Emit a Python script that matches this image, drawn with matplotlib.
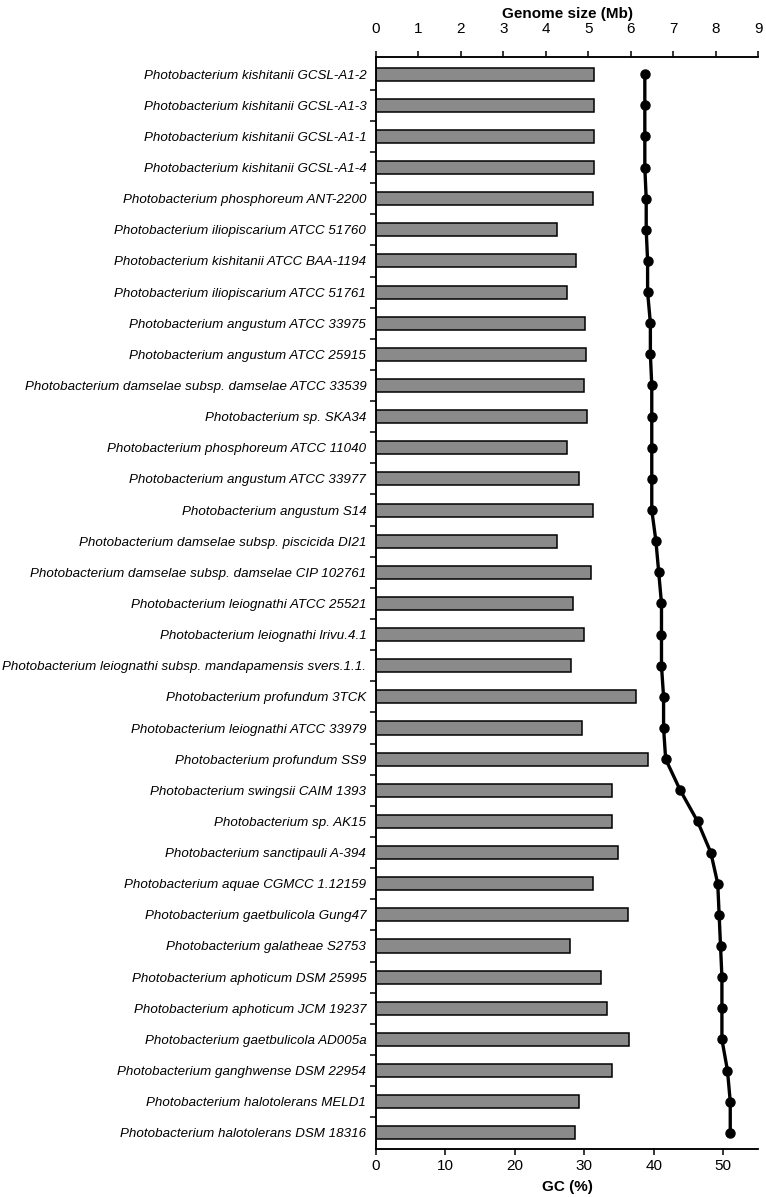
import matplotlib.pyplot as plt
import numpy as np

plt.rcParams['font.family'] = ['Liberation Sans', 'DejaVu Sans']

# cepas (de arriba hacia abajo)
cepas = [
    "Photobacterium kishitanii GCSL-A1-2",
    "Photobacterium kishitanii GCSL-A1-3",
    "Photobacterium kishitanii GCSL-A1-1",
    "Photobacterium kishitanii GCSL-A1-4",
    "Photobacterium phosphoreum ANT-2200",
    "Photobacterium iliopiscarium ATCC 51760",
    "Photobacterium kishitanii ATCC BAA-1194",
    "Photobacterium iliopiscarium ATCC 51761",
    "Photobacterium angustum ATCC 33975",
    "Photobacterium angustum ATCC 25915",
    "Photobacterium damselae subsp. damselae ATCC 33539",
    "Photobacterium sp. SKA34",
    "Photobacterium phosphoreum ATCC 11040",
    "Photobacterium angustum ATCC 33977",
    "Photobacterium angustum S14",
    "Photobacterium damselae subsp. piscicida DI21",
    "Photobacterium damselae subsp. damselae CIP 102761",
    "Photobacterium leiognathi ATCC 25521",
    "Photobacterium leiognathi lrivu.4.1",
    "Photobacterium leiognathi subsp. mandapamensis svers.1.1.",
    "Photobacterium profundum 3TCK",
    "Photobacterium leiognathi ATCC 33979",
    "Photobacterium profundum SS9",
    "Photobacterium swingsii CAIM 1393",
    "Photobacterium sp. AK15",
    "Photobacterium sanctipauli A-394",
    "Photobacterium aquae CGMCC 1.12159",
    "Photobacterium gaetbulicola Gung47",
    "Photobacterium galatheae S2753",
    "Photobacterium aphoticum DSM 25995",
    "Photobacterium aphoticum JCM 19237",
    "Photobacterium gaetbulicola AD005a",
    "Photobacterium ganghwense DSM 22954",
    "Photobacterium halotolerans MELD1",
    "Photobacterium halotolerans DSM 18316",
]

# tamano del genoma (Mb)
genoma = [5.14, 5.14, 5.13, 5.13, 5.11, 4.27, 4.72, 4.51, 4.92, 4.95,
          4.89, 4.98, 4.50, 4.79, 5.11, 4.27, 5.07, 4.63, 4.91, 4.59,
          6.13, 4.85, 6.41, 5.55, 5.55, 5.71, 5.11, 5.94, 4.56, 5.30,
          5.43, 5.97, 5.56, 4.79, 4.69]

# contenido GC (%)
gc = [38.7, 38.7, 38.7, 38.7, 38.9, 38.9, 39.1, 39.1, 39.5, 39.5,
      39.7, 39.7, 39.7, 39.7, 39.7, 40.3, 40.7, 41.1, 41.1, 41.1,
      41.4, 41.4, 41.7, 43.8, 46.3, 48.2, 49.2, 49.4, 49.6, 49.8,
      49.8, 49.8, 50.6, 51.0, 51.0]

y = np.arange(len(cepas))

fig = plt.figure(figsize=(7.66, 11.97), dpi=100)
ax = fig.add_axes([0.4909, 0.0401, 0.4987, 0.9123])

# barras: tamano del genoma, eje superior
ax.barh(y, genoma, height=0.42, color="#8a8a8a", edgecolor="black", linewidth=1.1)
ax.set_xlim(0, 9)
ax.set_ylim(34.52, -0.55)

ax.set_yticks(y)
ax.set_yticklabels(cepas, fontsize=9.6, style="italic")
ax.tick_params(axis="y", which="major", length=0, pad=7)
ax.set_yticks(y[:-1] + 0.5, minor=True)
ax.tick_params(axis="y", which="minor", length=4, width=1.1)

# linea: contenido GC, eje inferior
ax2 = ax.twiny()
ax2.plot(gc, y, color="black", linewidth=2.4, marker="o", markersize=6.5)
ax2.set_xlim(0, 55)
ax2.xaxis.tick_bottom()
ax2.xaxis.set_label_position("bottom")
ax2.set_xticks(range(0, 51, 10))
ax2.set_xlabel("GC (%)", fontsize=11, fontweight="bold", labelpad=5)
ax2.tick_params(axis="x", labelsize=11, length=4, width=1.1, pad=3)

# twiny pone el eje de ax abajo, se vuelve a subir
ax.xaxis.tick_top()
ax.xaxis.set_label_position("top")
ax.set_xticks(range(0, 10))
ax.set_xlabel("Genome size (Mb)", fontsize=11, fontweight="bold", labelpad=3)
ax.tick_params(axis="x", labelsize=11, length=4, width=1.1, pad=11)

for a in (ax, ax2):
    a.spines["right"].set_visible(False)
    for s in ("left", "top", "bottom"):
        a.spines[s].set_linewidth(1.1)

fig.savefig("out.png", dpi=100)
